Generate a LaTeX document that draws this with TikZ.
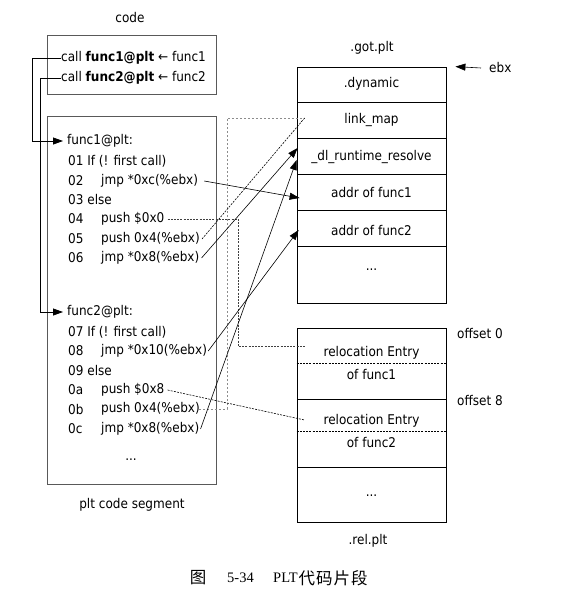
\documentclass[tikz,border=0pt]{standalone}
\usepackage{fontspec}
\setmainfont{DejaVu Sans Condensed}
\newfontfamily\cjk{Noto Sans CJK SC}
\newfontfamily\capfont{Liberation Serif}
\usetikzlibrary{arrows.meta,calc}
\begin{document}
\begin{tikzpicture}[x=1pt,y=-1pt,
  txt/.style={inner sep=0pt, anchor=west, font=\fontsize{13.4}{15}\selectfont},
  ctxt/.style={txt, anchor=center},
  lbox/.style={draw=black!65, line width=1pt, minimum width=169pt, inner sep=0pt},
  cell/.style={draw=black, line width=0.8pt, minimum width=149pt, inner sep=0pt},
  arr/.style={line width=0.6pt, -{Triangle[length=10pt,width=7pt]}},
  dsh/.style={line width=0.6pt, dashed, dash pattern=on 2pt off 1.2pt},
  gdsh/.style={line width=0.7pt, black!45, dash pattern=on 2.5pt off 1.5pt},
  capt/.style={inner sep=0pt, font=\capfont\fontsize{14.5}{17}\selectfont},
  cjkt/.style={inner sep=0pt, font=\cjk\fontsize{16.5}{18}\selectfont}]
\useasboundingbox (0,0) rectangle (567,595);

% ---- left: code box
\node[ctxt] (codelbl) at (130,18) {code};
\node[lbox, minimum height=59pt] (codebox) at (131.5,64.5) {};
\node[txt] (c1) at (61,58) {call \textbf{func1@plt} ← func1};
\node[txt] (c2) at (61,78) {call \textbf{func2@plt} ← func2};

% ---- left: plt box
\node[lbox, minimum height=368pt] (pltbox) at (131.5,300) {};
\node[ctxt] (pltlbl) at (132,505) {plt code segment};

\node[txt] (p1) at (67,141) {func1@plt:};
\node[txt] (l01) at (68,161) {01 If (! first call)};
\node[txt] (n02) at (68,181) {02};
\node[txt] (i02) at (101,181) {jmp *0xc(\%ebx)};
\node[txt] (l03) at (68,200) {03 else};
\node[txt] (n04) at (68,219) {04};
\node[txt] (i04) at (101,219) {push \$0x0};
\node[txt] (n05) at (68,239) {05};
\node[txt] (i05) at (101,239) {push 0x4(\%ebx)};
\node[txt] (n06) at (68,258) {06};
\node[txt] (i06) at (101,258) {jmp *0x8(\%ebx)};

\node[txt] (p2) at (67,312) {func2@plt:};
\node[txt] (l07) at (68,332) {07 If (! first call)};
\node[txt] (n08) at (68,351) {08};
\node[txt] (i08) at (101,351) {jmp *0x10(\%ebx)};
\node[txt] (l09) at (68,370) {09 else};
\node[txt] (n0a) at (68,390) {0a};
\node[txt] (i0a) at (101,390) {push \$0x8};
\node[txt] (n0b) at (68,409) {0b};
\node[txt] (i0b) at (101,409) {push 0x4(\%ebx)};
\node[txt] (n0c) at (68,429) {0c};
\node[txt] (i0c) at (101,429) {jmp *0x8(\%ebx)};
\node[ctxt] (pdots) at (131,460) {...};

% ---- right: .got.plt
\node[ctxt] (gotlbl) at (372,48) {.got.plt};
\node[cell, minimum height=35pt] (g1) at (371.5,84.5) {};
\node[cell, minimum height=36pt] (g2) at (371.5,120) {};
\node[cell, minimum height=36pt] (g3) at (371.5,156) {};
\node[cell, minimum height=36pt] (g4) at (371.5,192) {};
\node[cell, minimum height=36pt] (g5) at (371.5,228) {};
\node[cell, minimum height=57pt] (g6) at (371.5,274.5) {};
\node[ctxt] (g1t) at (371.5,84) {.dynamic};
\node[ctxt] (g2t) at (371.5,120) {link\_map};
\node[ctxt] (g3t) at (371.5,157) {\_dl\_runtime\_resolve};
\node[ctxt] (g4t) at (371.5,192) {addr of func1};
\node[ctxt] (g5t) at (371.5,230) {addr of func2};
\node[ctxt] (g6t) at (371.5,270) {...};
\node[txt] (ebx) at (489,68) {ebx};
\coordinate (ebxs) at (481,68);
\draw[arr] (ebxs) -- ([xshift=9]g1.north east);

% ---- right: .rel.plt
\node[cell, minimum height=71pt] (r1) at (371.5,363.5) {};
\node[cell, minimum height=68pt] (r2) at (371.5,433) {};
\node[cell, minimum height=55pt] (r3) at (371.5,494.5) {};
\draw[dsh] ([yshift=0.5]r1.west) -- ([yshift=0.5]r1.east);
\draw[dsh] ([yshift=2]r2.west) -- ([yshift=2]r2.east);
\node[ctxt] (r1a) at (371.5,353) {relocation Entry};
\node[ctxt] (r1b) at (371.5,374) {of func1};
\node[ctxt] (r2a) at (371.5,421) {relocation Entry};
\node[ctxt] (r2b) at (371.5,442) {of func2};
\node[ctxt] (r3t) at (371.5,496) {...};
\node[ctxt] (rellbl) at (368,541) {.rel.plt};
\node[txt] (off0) at (457,333) {offset 0};
\node[txt] (off8) at (457,400) {offset 8};

% ---- code -> plt entries
\draw[arr, line width=0.8pt, shorten >=4pt] (c1.west) -- ++(-29,0) |- (p1.west);
\draw[arr, line width=0.8pt, shorten >=4pt] (c2.west) -- ++(-21,0) |- (p2.west);

% ---- dashed links
\coordinate (k1) at (238,346);
\coordinate (k2) at (227,118);
\draw[gdsh] ([xshift=-1]i0b.east) -| (k2) -- ([xshift=8]g2.west |- k2);
\draw[dsh, black!75] ([xshift=3]i04.east) -| (k1) -- ([xshift=8]r1.west |- k1);
\draw[dsh] ([xshift=2]i05.east) -- ([xshift=8,yshift=2]g2.west);
\draw[dsh] ([xshift=3]i0a.east) -- ([xshift=8,yshift=13]r2.west);

% ---- jumps into .got.plt
\draw[arr] ([xshift=6]i02.east) -- ([xshift=3,yshift=-6]g4.west);
\draw[arr] ([xshift=2]i06.east) -- ([xshift=1,yshift=8]g3.west);
\draw[arr] ([xshift=1]i08.east) -- ([xshift=2,yshift=-2]g5.west);
\draw[arr] ([xshift=1]i0c.east) -- ([xshift=0,yshift=-4]g3.west);

% ---- caption
\node[cjkt] (capfig) at (198,578) {图};
\node[capt] (capnum) at (240.5,578) {5-34};
\node[capt, anchor=west] (capplt) at (273,578) {PLT};
\node[cjkt, anchor=west] (captitle) at ([xshift=0.5]capplt.east) {代\kern1pt 码\kern1pt 片\kern1pt 段};
\end{tikzpicture}
\end{document}
